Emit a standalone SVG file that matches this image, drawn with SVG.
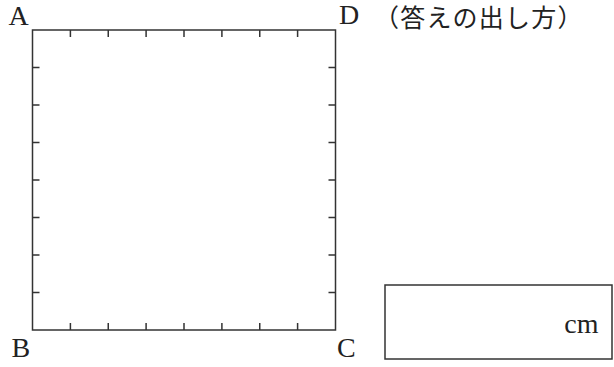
<svg xmlns="http://www.w3.org/2000/svg" width="614" height="367" viewBox="0 0 614 367">
<style>
.frame{fill:none;stroke:#333;stroke-width:1.5}
.tick{stroke:#333;stroke-width:1.5}
.lbl{font-family:"Liberation Serif","Times New Roman",serif;font-size:28px;fill:#222}
.jp{font-family:"Noto Sans CJK JP","Noto Sans CJK SC",sans-serif;font-size:25px;letter-spacing:1.2px;fill:#222}
</style>
<rect width="614" height="367" fill="#fff"/>
<g id="square">
<rect class="frame" x="32.5" y="30" width="303" height="300"/>
<g id="ticks">
<path class="tick" d="M70.4 30v7M108.25 30v7M146.1 30v7M184 30v7M221.9 30v7M259.75 30v7M297.6 30v7"/>
<path class="tick" d="M70.4 330v-7M108.25 330v-7M146.1 330v-7M184 330v-7M221.9 330v-7M259.75 330v-7M297.6 330v-7"/>
<path class="tick" d="M32.5 67.5h7M32.5 105h7M32.5 142.5h7M32.5 180h7M32.5 217.5h7M32.5 255h7M32.5 292.5h7"/>
<path class="tick" d="M335.5 67.5h-7M335.5 105h-7M335.5 142.5h-7M335.5 180h-7M335.5 217.5h-7M335.5 255h-7M335.5 292.5h-7"/>
</g>
</g>
<g id="labels">
<text class="lbl" x="8.5" y="24.5">A</text>
<text class="lbl" x="339" y="24">D</text>
<text class="lbl" x="11.5" y="357">B</text>
<text class="lbl" x="337" y="357">C</text>
</g>
<g id="title">
<text class="jp" x="374" y="26.5">（答えの出し方）</text>
</g>
<g id="answer">
<rect class="frame" x="385" y="285" width="227" height="74"/>
<text class="lbl" x="598.5" y="333" text-anchor="end">cm</text>
</g>
</svg>
